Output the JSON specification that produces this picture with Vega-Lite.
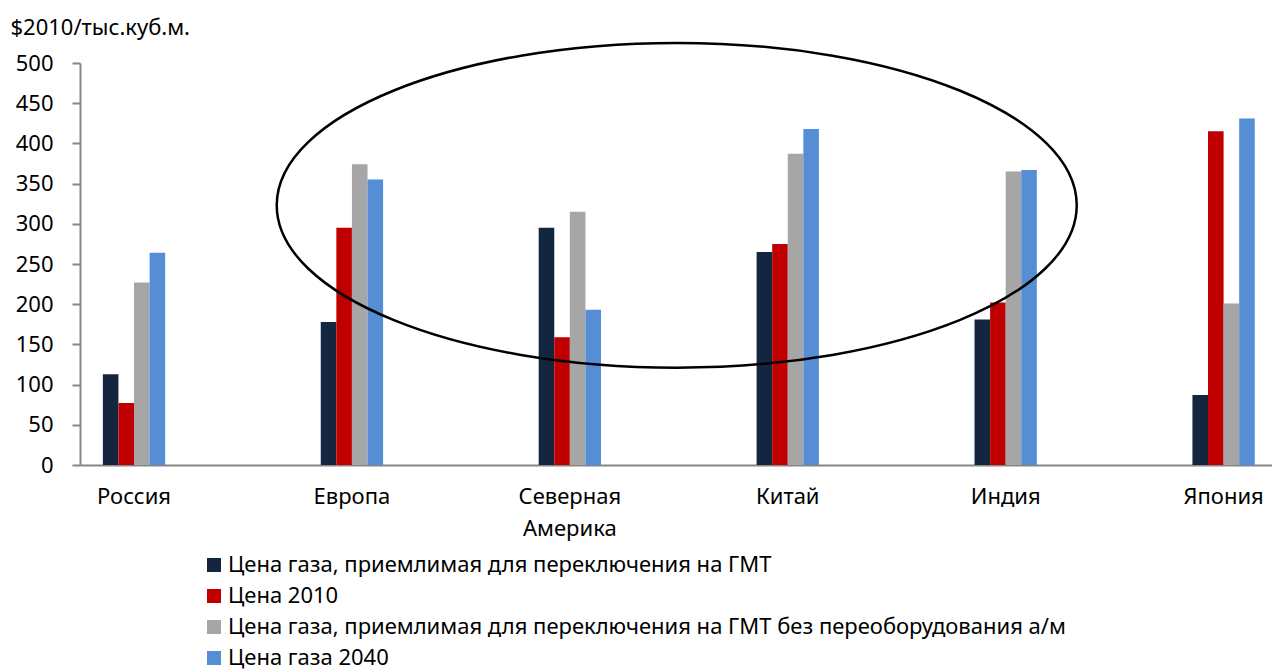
{
  "$schema": "https://vega.github.io/schema/vega-lite/v6.json",
  "width": 1192,
  "height": 402,
  "autosize": "none",
  "padding": {"left": 80, "top": 63, "right": 0, "bottom": 207},
  "background": "white",
  "config": {
    "font": "Noto Sans",
    "view": {"stroke": null},
    "axis": {"labelColor": "#000000", "titleColor": "#000000"}
  },
  "data": {
    "values": [
      {"region": "Россия", "series": "Цена газа, приемлимая для переключения на ГМТ", "value": 113},
      {"region": "Россия", "series": "Цена 2010", "value": 77},
      {"region": "Россия", "series": "Цена газа, приемлимая для переключения на ГМТ без переоборудования а/м", "value": 227},
      {"region": "Россия", "series": "Цена газа 2040", "value": 264},
      {"region": "Европа", "series": "Цена газа, приемлимая для переключения на ГМТ", "value": 178},
      {"region": "Европа", "series": "Цена 2010", "value": 295},
      {"region": "Европа", "series": "Цена газа, приемлимая для переключения на ГМТ без переоборудования а/м", "value": 374},
      {"region": "Европа", "series": "Цена газа 2040", "value": 355},
      {"region": "Северная Америка", "series": "Цена газа, приемлимая для переключения на ГМТ", "value": 295},
      {"region": "Северная Америка", "series": "Цена 2010", "value": 159},
      {"region": "Северная Америка", "series": "Цена газа, приемлимая для переключения на ГМТ без переоборудования а/м", "value": 315},
      {"region": "Северная Америка", "series": "Цена газа 2040", "value": 193},
      {"region": "Китай", "series": "Цена газа, приемлимая для переключения на ГМТ", "value": 265},
      {"region": "Китай", "series": "Цена 2010", "value": 275},
      {"region": "Китай", "series": "Цена газа, приемлимая для переключения на ГМТ без переоборудования а/м", "value": 387},
      {"region": "Китай", "series": "Цена газа 2040", "value": 418},
      {"region": "Индия", "series": "Цена газа, приемлимая для переключения на ГМТ", "value": 181},
      {"region": "Индия", "series": "Цена 2010", "value": 202},
      {"region": "Индия", "series": "Цена газа, приемлимая для переключения на ГМТ без переоборудования а/м", "value": 365},
      {"region": "Индия", "series": "Цена газа 2040", "value": 367},
      {"region": "Япония", "series": "Цена газа, приемлимая для переключения на ГМТ", "value": 87},
      {"region": "Япония", "series": "Цена 2010", "value": 415},
      {"region": "Япония", "series": "Цена газа, приемлимая для переключения на ГМТ без переоборудования а/м", "value": 201},
      {"region": "Япония", "series": "Цена газа 2040", "value": 431}
    ]
  },
  "layer": [
    {
      "mark": {"type": "bar"},
      "encoding": {
        "x": {
          "field": "region",
          "type": "nominal",
          "sort": null,
          "scale": {"paddingInner": 0.714, "paddingOuter": 0.092, "align": 0.57},
          "axis": {
            "title": null,
            "labelAngle": 0,
            "labelFontSize": 22,
            "labelPadding": 21,
            "labelLineHeight": 32,
            "labelExpr": "split(datum.label, ' ')",
            "ticks": false,
            "domainColor": "#868686",
            "domainWidth": 2
          }
        },
        "xOffset": {
          "field": "series",
          "sort": null,
          "scale": {"paddingInner": 0, "paddingOuter": 0}
        },
        "y": {
          "field": "value",
          "type": "quantitative",
          "scale": {"domain": [0, 500], "nice": false},
          "axis": {
            "values": [0, 50, 100, 150, 200, 250, 300, 350, 400, 450, 500],
            "grid": false,
            "domainColor": "#868686",
            "domainWidth": 2,
            "tickColor": "#868686",
            "tickWidth": 2,
            "tickSize": 8,
            "labelFontSize": 22,
            "labelPadding": 19,
            "title": "$2010/тыс.куб.м.",
            "titleAngle": 0,
            "titleAlign": "left",
            "titleBaseline": "alphabetic",
            "titleFontWeight": "normal",
            "titleFontSize": 22,
            "titleX": -70,
            "titleY": -29
          }
        },
        "color": {
          "field": "series",
          "type": "nominal",
          "scale": {
            "domain": [
              "Цена газа, приемлимая для переключения на ГМТ",
              "Цена 2010",
              "Цена газа, приемлимая для переключения на ГМТ без переоборудования а/м",
              "Цена газа 2040"
            ],
            "range": ["#13253f", "#c00000", "#a6a6a6", "#558ed5"]
          },
          "legend": {
            "title": null,
            "orient": "none",
            "direction": "vertical",
            "legendX": 123,
            "legendY": 491,
            "symbolType": "square",
            "symbolSize": 196,
            "symbolStrokeWidth": 0,
            "labelFontSize": 22,
            "labelColor": "#000000",
            "labelOffset": 3,
            "labelLimit": 2000,
            "rowPadding": 9,
            "padding": 0
          }
        }
      }
    },
    {
      "data": {"values": [{}]},
      "mark": {
        "type": "point",
        "shape": "M-1,0A1,0.406,0,1,1,1,0A1,0.406,0,1,1,-1,0Z",
        "size": 640000,
        "filled": false,
        "fill": null,
        "stroke": "#000000",
        "strokeWidth": 2.5,
        "opacity": 1
      },
      "encoding": {
        "x": {"datum": "Северная Америка", "bandPosition": 2.215},
        "y": {"datum": 323}
      }
    }
  ]
}
